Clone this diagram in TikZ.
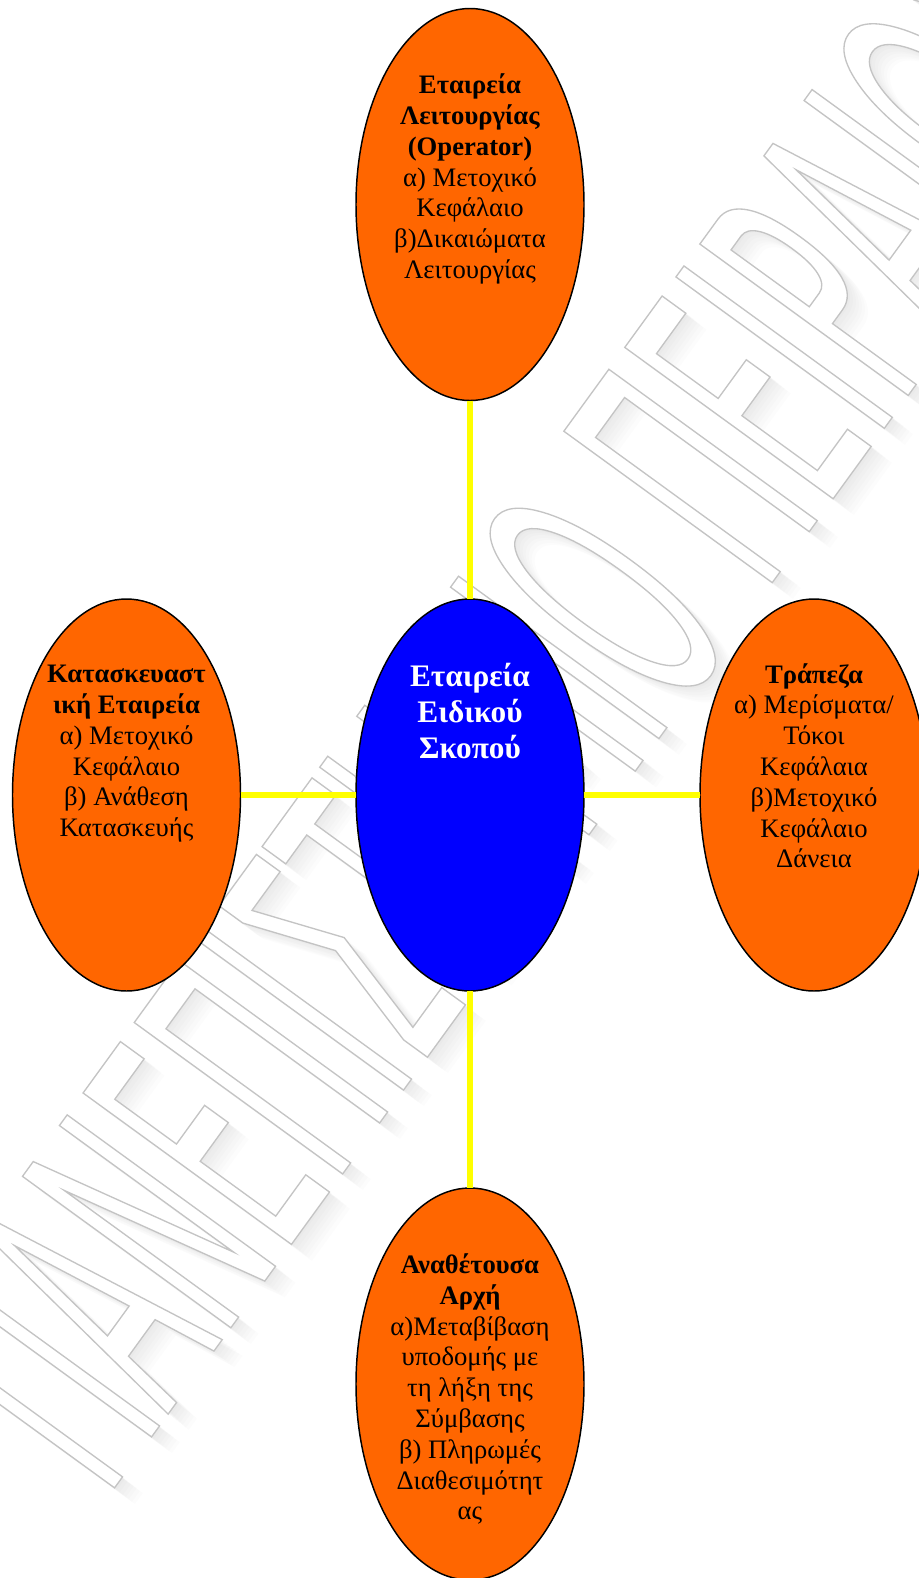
\documentclass[tikz,border=0pt]{standalone}
\usepackage{fontspec}
\setmainfont{Liberation Serif}
\newfontfamily\wmfont[FakeStretch=0.39]{DejaVu Sans}
\usetikzlibrary{shapes.geometric}

% outlined (fill + stroke) text for the background lettering
\newcommand\outlinetext[1]{\special{pdf:literal direct 2 Tr 1.0 w 0.77 G}#1\special{pdf:literal direct 0 Tr 0 G}}
\newcommand\wmwords{ΠΑΝΕΠΙΣΤΗΜΙΟ ΠΕΙΡΑΙΩΣ}

\definecolor{bubble}{HTML}{FF6600}
\definecolor{hubblue}{HTML}{0000FF}
\definecolor{link}{HTML}{FFFF00}

\tikzset{
  party/.style={ellipse, draw=black, line width=1.1pt, fill=bubble,
    minimum width=171pt, minimum height=294pt, inner sep=0pt, outer sep=0pt},
  hub/.style={party, fill=hubblue},
  lbl/.style={font=\fontsize{20}{23.1}\selectfont, align=center, inner sep=0pt, anchor=north},
  hublbl/.style={font=\fontsize{23.5}{27}\selectfont\bfseries, text=white, align=center, inner sep=0pt, anchor=north},
  conn/.style={draw=link, line width=4.6pt},
  wmbase/.style={font=\wmfont\fontsize{265}{270}\selectfont, inner sep=0pt, rotate=54},
  watermark/.style={wmbase, text=white},
  wmshadow/.style={wmbase, text=black, text opacity=0.011}
}

\begin{document}
\begin{tikzpicture}[x=0.75pt, y=-0.75pt]
  \useasboundingbox (0,0) rectangle (919,1578);
  \clip (0,0) rectangle (919,1578);
  \fill[white] (0,0) rectangle (919,1578);

  % faint diagonal lettering behind the diagram, with a soft shadow
  \foreach \d in {3,6,...,21}
    \node[wmshadow] at (520+\d,711+0.8*\d) {\wmwords};
  \node[watermark] (wm) at (520,711) {\outlinetext{\wmwords}};

  % the five parties
  \node[party] (oper) at (470,204.5) {};
  \node[hub]   (spv)  at (470,795) {};
  \node[party] (cons) at (126.5,795) {};
  \node[party] (bank) at (814,795) {};
  \node[party] (auth) at (470,1384) {};

  % links to the special purpose company
  \draw[conn] (oper) -- (spv);
  \draw[conn] (cons) -- (spv);
  \draw[conn] (spv) -- (bank);
  \draw[conn] (spv) -- (auth);

  % labels
  \node[lbl] (operT) at ([yshift=-48.8pt]oper.north) {\textbf{Εταιρεία}\\\textbf{Λειτουργίας}\\\textbf{(Operator)}\\α) Μετοχικό\\Κεφάλαιο\\β)Δικαιώματα\\Λειτουργίας};
  \node[hublbl] (spvT) at ([yshift=-48pt]spv.north) {Εταιρεία\\Ειδικού\\Σκοπού};
  \node[lbl] (consT) at ([yshift=-49.5pt]cons.north) {\textbf{Κατασκευαστ}\\\textbf{ική Εταιρεία}\\α) Μετοχικό\\Κεφάλαιο\\β) Ανάθεση\\Κατασκευής};
  \node[lbl] (bankT) at ([yshift=-48pt]bank.north) {\textbf{Τράπεζα}\\α) Μερίσματα/\\Τόκοι\\Κεφάλαια\\β)Μετοχικό\\Κεφάλαιο\\Δάνεια};
  \node[lbl] (authT) at ([yshift=-49pt]auth.north) {\textbf{Αναθέτουσα}\\\textbf{Αρχή}\\α)Μεταβίβαση\\υποδομής με\\τη λήξη της\\Σύμβασης\\β) Πληρωμές\\Διαθεσιμότητ\\ας};
\end{tikzpicture}
\end{document}
